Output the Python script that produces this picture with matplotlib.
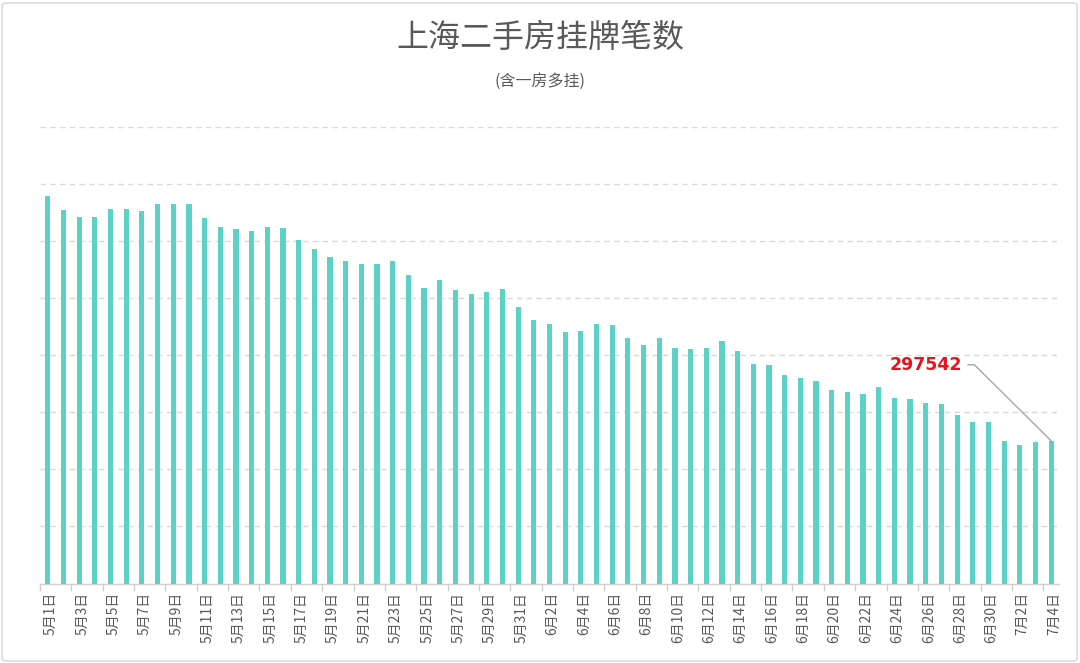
import numpy as np
import matplotlib
matplotlib.use("Agg")
import matplotlib.pyplot as plt
import matplotlib.transforms as mtransforms
from matplotlib.patches import FancyBboxPatch

plt.rcParams['font.family'] = ['Noto Sans CJK SC', 'DejaVu Sans']

# dates: 5月1日 .. 7月4日
dates = ([f"5月{d}日" for d in range(1, 32)] +
         [f"6月{d}日" for d in range(1, 31)] +
         [f"7月{d}日" for d in range(1, 5)])

# listings (y axis hidden, last value labelled)
may = [405000, 398800, 395700, 395700, 399100, 399300, 398500, 401300,
       401300, 401300, 395200, 391200, 390200, 389600, 391500, 390800,
       385400, 381700, 378300, 376600, 375100, 375100, 376600, 370300,
       364600, 368200, 363600, 362100, 362700, 364000, 356300]
june = [350400, 348900, 345300, 345700, 348800, 348400, 342700, 339700,
        342700, 338300, 337700, 338300, 341100, 337100, 331300, 330800,
        326400, 325100, 323900, 319900, 319000, 318200, 321200, 316400,
        315900, 314200, 313700, 308900, 305800, 306000]
july = [297600, 295700, 296900, 297542]
values = may + june + july

BAR = "#5AD2C6"
GRAY = "#595959"

fig = plt.figure(figsize=(10.8, 6.63), dpi=100)
ax = fig.add_axes([40 / 1080, 79.5 / 663, 1019 / 1080, 456.2 / 663])

x = np.arange(len(values))
ax.bar(x, values, width=0.33, color=BAR, zorder=3)

ax.set_xlim(-0.5, len(values) - 0.5)
ax.set_ylim(235000, 435000)
ax.set_yticks(np.arange(235000, 435001, 25000))
ax.yaxis.grid(True, color="#D9D9D9", linestyle=(0, (4, 3)), linewidth=1, zorder=0)
ax.tick_params(axis="y", left=False, labelleft=False)

for s in ["top", "right", "left"]:
    ax.spines[s].set_visible(False)
ax.spines["bottom"].set_color("#D0D0D0")
ax.spines["bottom"].set_linewidth(1)

# labels every other day, ticks at group boundaries
ax.set_xticks(x[::2])
ax.set_xticklabels(dates[::2], rotation=90, fontsize=10, color=GRAY)
ax.tick_params(axis="x", which="major", length=0, pad=6)
ax.set_xticks(np.arange(-0.5, len(values) - 1, 2), minor=True)
ax.tick_params(axis="x", which="minor", length=5, color="#D0D0D0", width=1)
offset = mtransforms.ScaledTranslation(3 / 100, 0, fig.dpi_scale_trans)
for lab in ax.get_xticklabels():
    lab.set_transform(lab.get_transform() + offset)

# title
fig.text(0.5, 1 - 38 / 663, "上海二手房挂牌笔数", ha="center", va="center",
         fontsize=23, color=GRAY)
fig.text(0.5, 1 - 81 / 663, "(含一房多挂)", ha="center", va="center",
         fontsize=11.5, color=GRAY)

# last value callout
last = len(values) - 1
ax.text(58.35, 330900, f"{values[last]}", fontsize=12.5, fontweight="bold",
        color="#E8141B", ha="right", va="center", family=['DejaVu Sans'],
        zorder=5)
ax.plot([58.7, 59.1, last], [330900, 330900, values[last]],
        color="#A6A6A6", linewidth=1, zorder=4, clip_on=False)

fig.patches.append(FancyBboxPatch((2 / 1080, 2 / 663), 1075 / 1080, 658 / 663,
                                  boxstyle="round,pad=0,rounding_size=0.004",
                                  transform=fig.transFigure, fill=False,
                                  edgecolor="#DCDCDC", linewidth=1.2))

fig.savefig("out.png", dpi=100)
